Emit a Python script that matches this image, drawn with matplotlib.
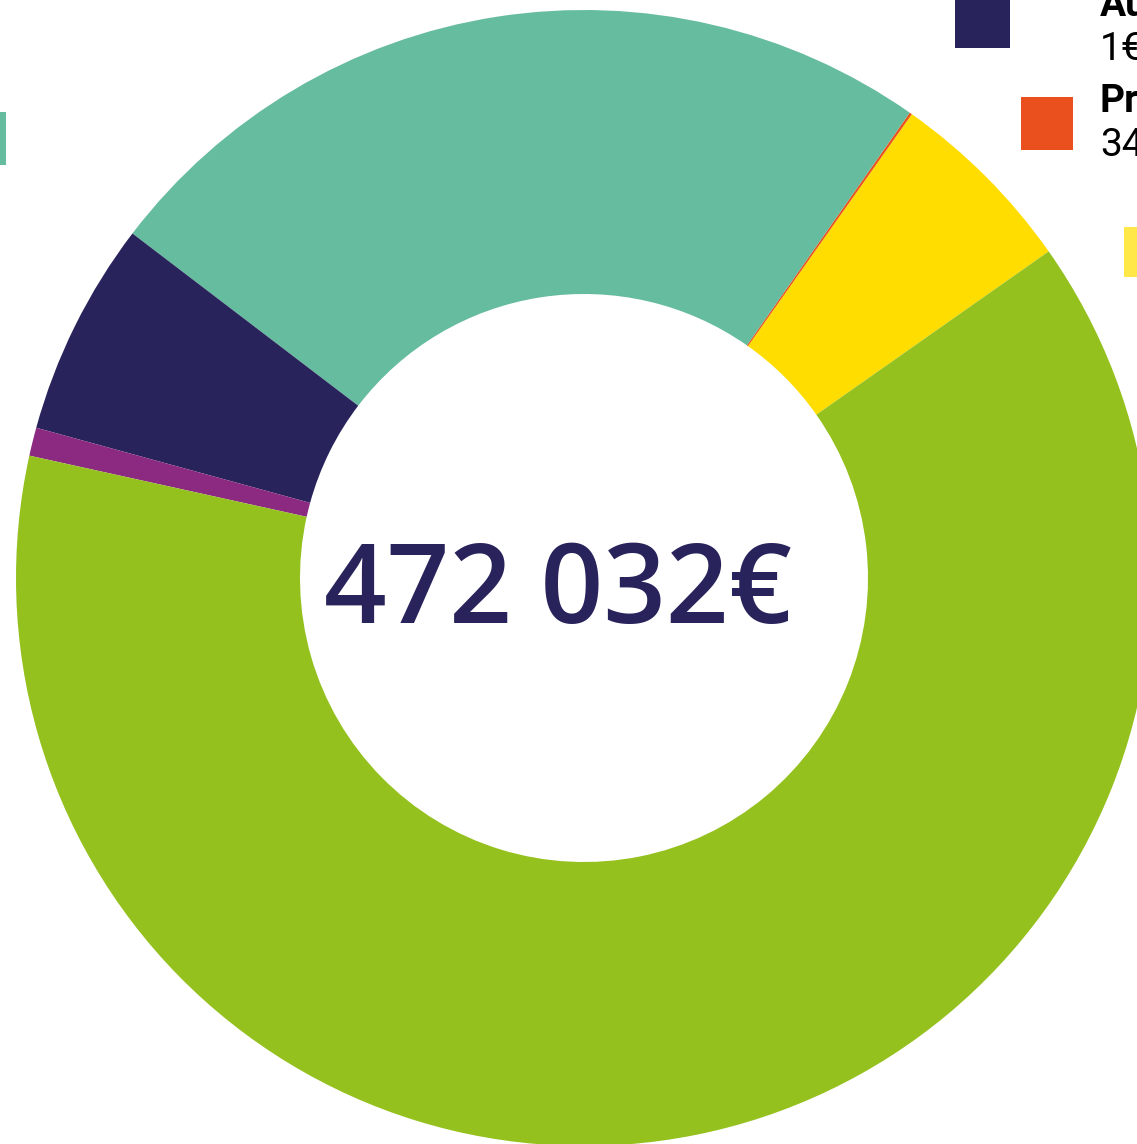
import matplotlib
matplotlib.use("Agg")
import matplotlib.pyplot as plt
from matplotlib.patches import Rectangle

# slice values in euros (counter-clockwise from the yellow slice)
labels = ["Subventions", "Produits divers", "Cotisations", "Autres", "Dons", "Prestations"]
values = [25760, 340, 114930, 28850, 3800, 298352]
colors = ["#FFDD00", "#E9531E", "#66BC9E", "#28235B", "#8B2A80", "#95C11F"]
total_label = "472 032€"

# legend entries that remain visible at the cropped right edge
legend_titles = ["Au", "Pr"]
legend_values = ["1€", "34"]
legend_colors = ["#28235B", "#EA501E"]

W, H = 1137, 1144
fig = plt.figure(figsize=(W / 100, H / 100), dpi=100)
ax = fig.add_axes([0, 0, 1, 1])

cx, cy = 584, H - 578
R = 568

ax.pie(values, colors=colors, startangle=35.1, counterclock=True,
       radius=R, center=(cx, cy),
       wedgeprops=dict(width=R * 0.5, linewidth=0))

ax.text(cx - 26, cy - 16, total_label, ha="center", va="center",
        fontsize=79, color="#28235B", family="Open Sans", fontweight="semibold")

# hand-drawn legend squares, cropped by the figure edge
ax.add_patch(Rectangle((955, H - 48), 55, 60, color=legend_colors[0], lw=0))
ax.add_patch(Rectangle((1021, H - 150), 52, 53, color=legend_colors[1], lw=0))
ax.add_patch(Rectangle((1124, H - 277), 30, 50, color="#FFE847", lw=0))
ax.add_patch(Rectangle((-10, H - 165), 16, 53, color="#66BC9E", lw=0))

ys = [H - 1, H - 97]
for y, t, v in zip(ys, legend_titles, legend_values):
    ax.text(1100, y + 14, t, ha="left", va="top", fontsize=28,
            fontweight="bold", family="Roboto", color="black")
    ax.text(1100, y - 30, v, ha="left", va="top", fontsize=28,
            fontweight="normal", family="Roboto", color="black")

ax.set_xlim(0, W)
ax.set_ylim(0, H)
ax.set_aspect("auto")
ax.axis("off")

fig.savefig("out.png", dpi=100, facecolor="white")
